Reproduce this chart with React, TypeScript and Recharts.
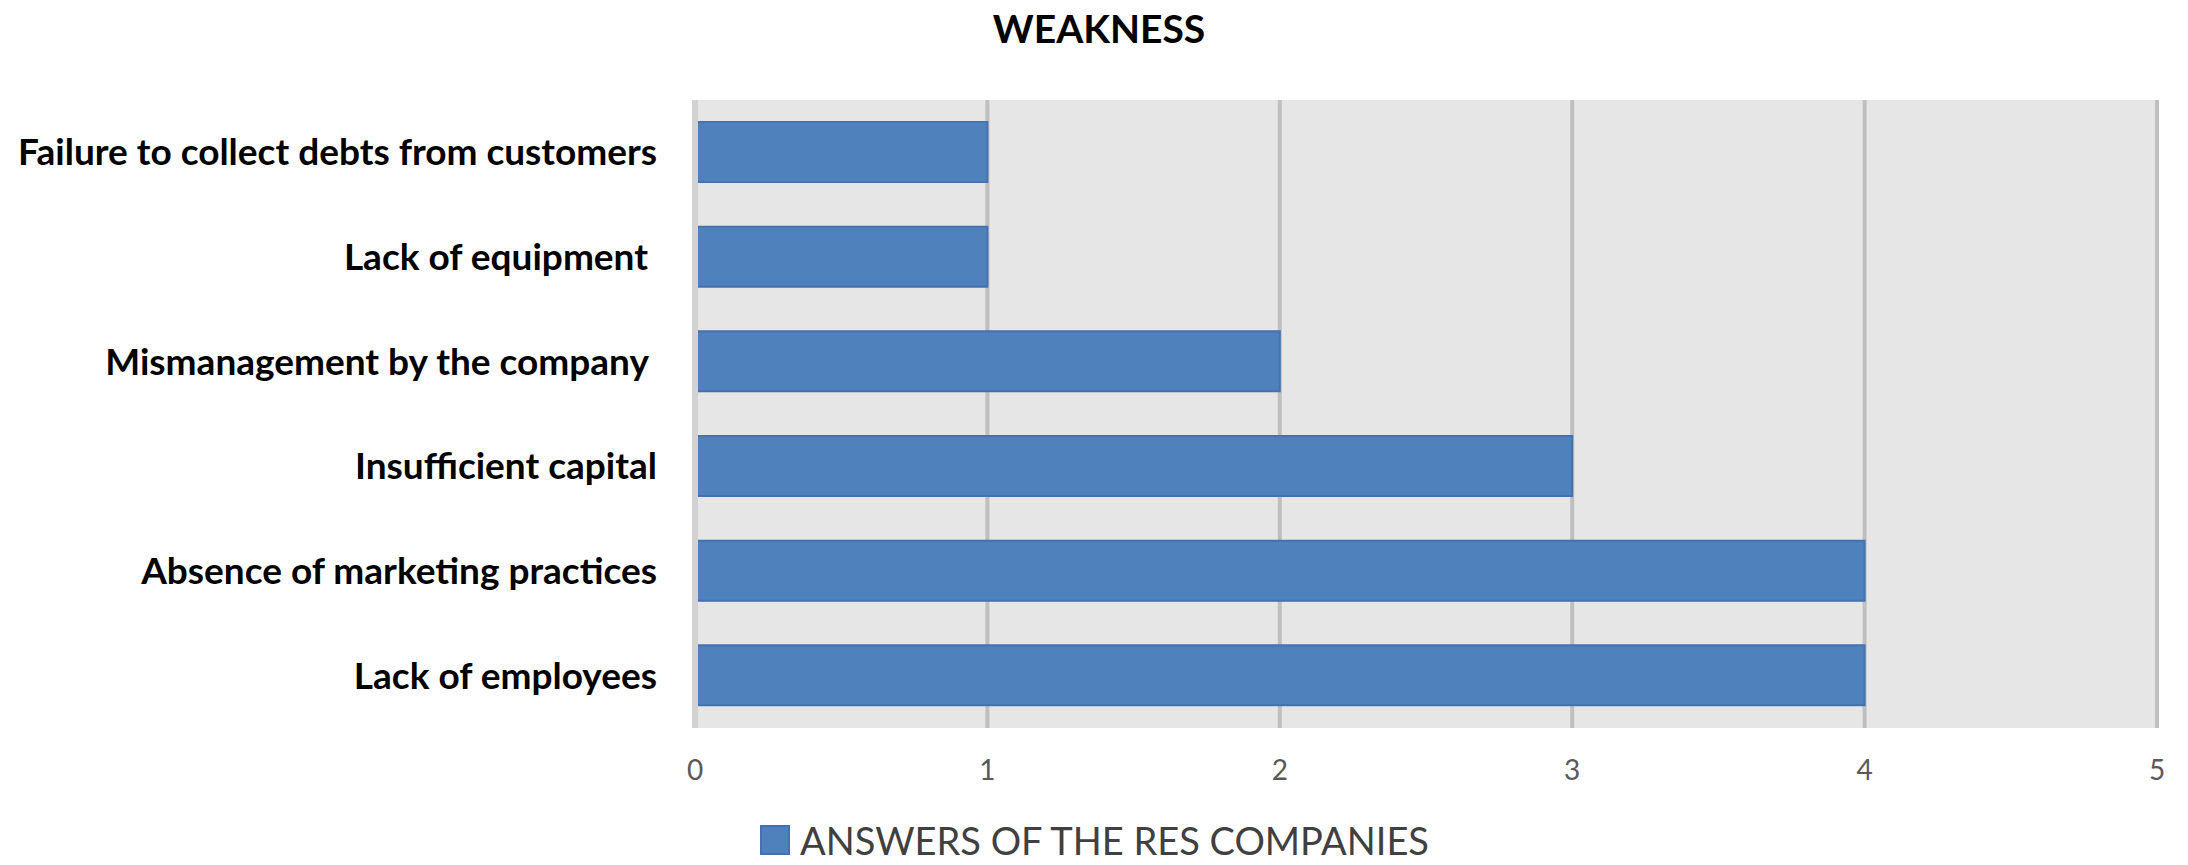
import React from 'react';
import { BarChart, Bar, XAxis, YAxis, CartesianGrid, Legend } from 'recharts';

/* ---------------------------------------
   DATA
---------------------------------------- */
const chartTitle = 'WEAKNESS';

const categories = [
  'Failure to collect debts from customers',
  'Lack of equipment\u00a0',
  'Mismanagement by the company\u00a0',
  'Insufficient capital',
  'Absence of marketing practices',
  'Lack of employees',
];

const answers = [1, 1, 2, 3, 4, 4];

const xTicks = [0, 1, 2, 3, 4, 5];

const seriesName = 'ANSWERS OF THE RES COMPANIES';

const chartData = categories.map((weakness, i) => ({
  weakness,
  answers: answers[i],
}));

const FONT = 'Lato, "Open Sans", sans-serif';
const BAR_BLUE = '#4f81bd';
const BAR_EDGE = '#4472b0';

/* ---------------------------------------
   LEGEND
---------------------------------------- */
function LegendContent() {
  return (
    <div style={{ display: 'flex', alignItems: 'center', fontFamily: FONT }}>
      <span
        style={{
          display: 'inline-block',
          width: 30,
          height: 30,
          background: BAR_BLUE,
          border: `2px solid ${BAR_EDGE}`,
          boxSizing: 'border-box',
          marginRight: 10,
        }}
      />
      <span style={{ fontSize: 38, color: '#404040', lineHeight: '38px' }}>
        {seriesName}
      </span>
    </div>
  );
}

/* ---------------------------------------
   MAIN COMPONENT
---------------------------------------- */
export default function App() {
  return (
    <div
      style={{
        position: 'absolute',
        left: 0,
        top: 0,
        width: 2188,
        height: 865,
        background: '#fff',
        fontFamily: FONT,
      }}
    >
      {/* Title */}
      <div
        style={{
          position: 'absolute',
          left: 0,
          top: 5,
          width: 2198,
          textAlign: 'center',
          fontSize: 39,
          fontWeight: 700,
          color: '#000',
          lineHeight: 'normal',
        }}
      >
        {chartTitle}
      </div>

      <BarChart
        width={2188}
        height={865}
        data={chartData}
        layout="vertical"
        margin={{ top: 100, right: 31, bottom: 77, left: 15 }}
        barSize={60}
      >
        <CartesianGrid
          horizontal={false}
          fill="#e6e6e6"
          stroke="#bfbfbf"
          strokeWidth={4}
        />

        <XAxis
          type="number"
          domain={[0, 5]}
          ticks={xTicks}
          interval={0}
          height={60}
          axisLine={false}
          tickLine={false}
          tickSize={0}
          tickMargin={32}
          tick={{ fill: '#595959', fontSize: 28, fontFamily: FONT }}
        />

        <YAxis
          type="category"
          dataKey="weakness"
          width={680}
          axisLine={{ stroke: '#d2d2d2', strokeWidth: 6 }}
          tickLine={false}
          tickSize={0}
          tickMargin={38}
          tick={{
            fill: '#000',
            fontSize: 37,
            fontWeight: 700,
            fontFamily: FONT,
          }}
        />

        <Legend
          layout="horizontal"
          verticalAlign="middle"
          align="center"
          content={() => <LegendContent />}
          wrapperStyle={{ left: 760, top: 821, width: 800, height: 40 }}
        />

        <Bar
          dataKey="answers"
          name={seriesName}
          fill={BAR_BLUE}
          stroke={BAR_EDGE}
          strokeWidth={2}
          isAnimationActive={false}
        />
      </BarChart>
    </div>
  );
}
